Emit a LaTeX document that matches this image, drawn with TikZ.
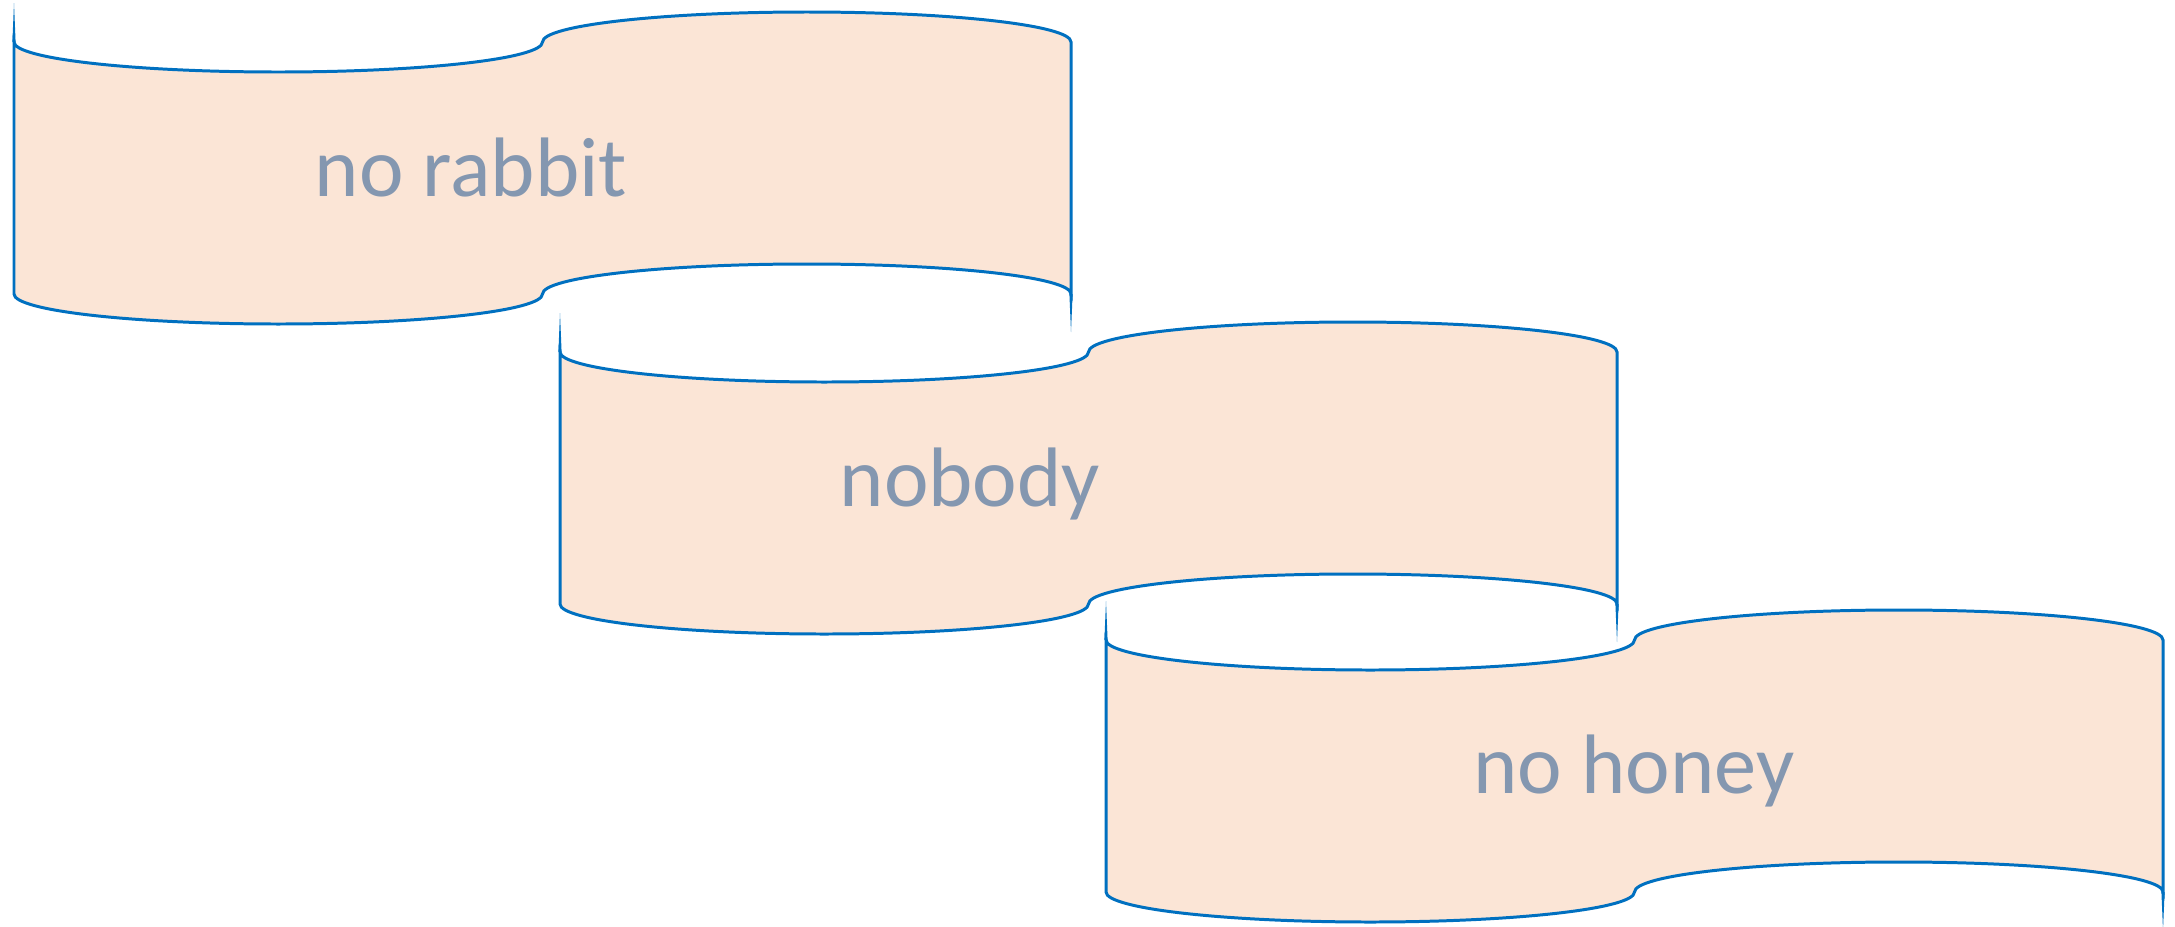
\documentclass[tikz,border=0pt]{standalone}
\usepackage{fontspec}
\setmainfont{Carlito}
\usepackage{tikz}
\definecolor{tapeblue}{RGB}{0,112,192}
\definecolor{tapefill}{RGB}{251,229,214}
\definecolor{tapegray}{RGB}{132,151,176}
\tikzstyle{tape}     = [draw=tapeblue,fill=tapefill,line width=0.85pt]
\tikzstyle{tapetip}  = [fill=tapeblue]
\tikzstyle{tapetext} = [text=tapegray,anchor=base,inner sep=0pt,font=\fontsize{24}{28}\selectfont]
% punched tape: #1 = left edge, #2 = top baseline (pixels, y down)
\newcommand{\tapeshape}[2]{%
  \draw[tape] (#1,#2) .. controls (#1,#2+16.6) and (#1+118.3,#2+30) .. (#1+264.25,#2+30)
    .. controls (#1+410.2,#2+30) and (#1+528.5,#2+16.6) .. (#1+528.5,#2)
    .. controls (#1+528.5,#2-16.6) and (#1+646.8,#2-30) .. (#1+792.75,#2-30)
    .. controls (#1+938.7,#2-30) and (#1+1057,#2-16.6) .. (#1+1057,#2)
    -- (#1+1057,#2+252)
    .. controls (#1+1057,#2+235.4) and (#1+938.7,#2+222) .. (#1+792.75,#2+222)
    .. controls (#1+646.8,#2+222) and (#1+528.5,#2+235.4) .. (#1+528.5,#2+252)
    .. controls (#1+528.5,#2+268.6) and (#1+410.2,#2+282) .. (#1+264.25,#2+282)
    .. controls (#1+118.3,#2+282) and (#1,#2+268.6) .. (#1,#2+252) -- cycle;
  \fill[tapetip] (#1-1.6,#2) -- (#1,#2-39) -- (#1+1.6,#2) -- cycle;
  \fill[tapetip] (#1+1055.4,#2+252) -- (#1+1057,#2+290) -- (#1+1058.6,#2+252) -- cycle;
}

\begin{document}
\begin{tikzpicture}[x=0.01cm,y=-0.01cm]
\useasboundingbox (0,0) rectangle (2175,927);

\tapeshape{14}{42}
\tapeshape{560}{352}
\tapeshape{1106}{640}

\node[tapetext] (rabbit) at (471,196) {no rabbit};
\node[tapetext] (nobody) at (970,506) {nobody};
\node[tapetext] (honey)  at (1634,793) {no honey};
\end{tikzpicture}
\end{document}
